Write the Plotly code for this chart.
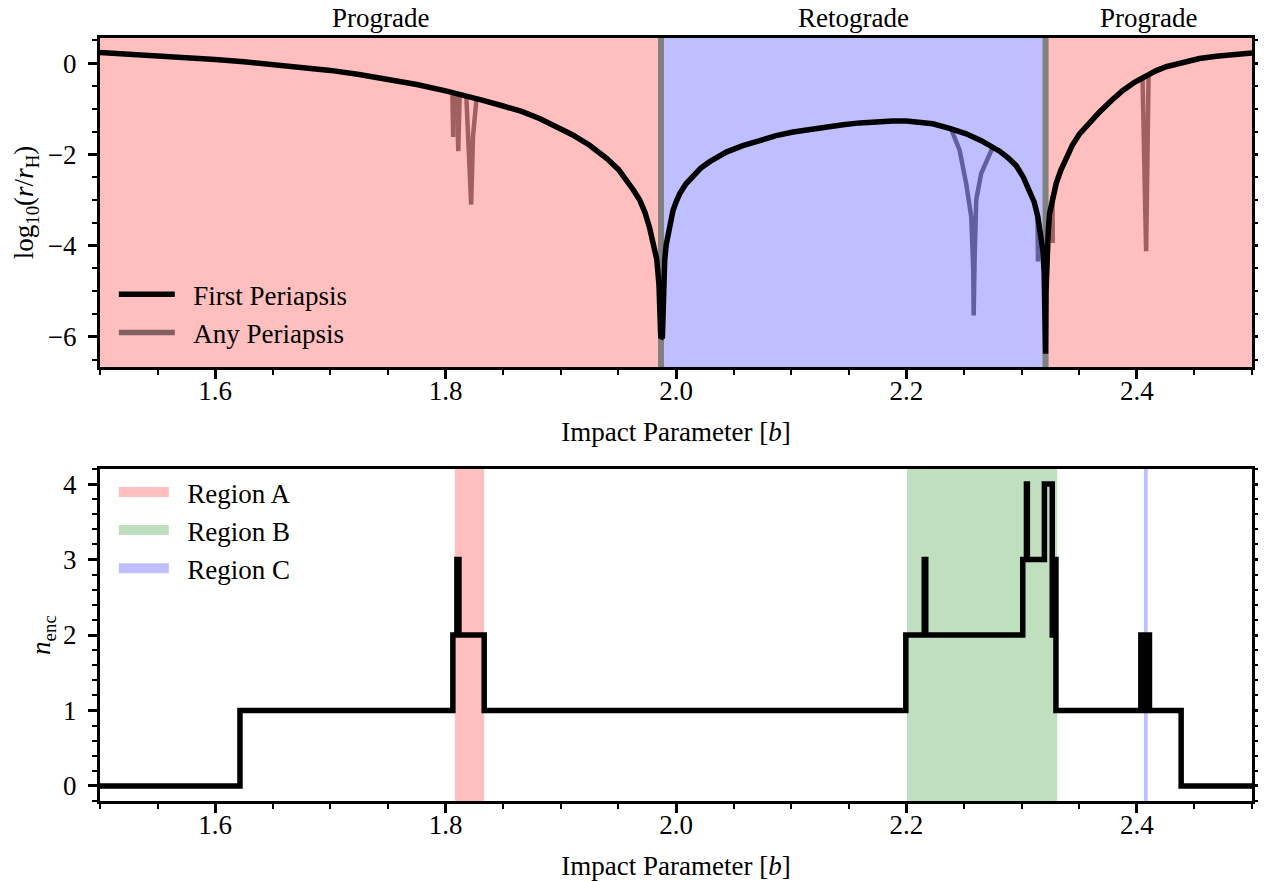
import plotly.graph_objects as go

# ---------------- data ----------------
# boundaries between prograde / retrograde regions (impact parameter b)
region_bounds = [1.5, 1.987, 2.3208, 2.5]
region_labels = ["Prograde", "Retograde", "Prograde"]

# first periapsis: log10(r / r_H) vs impact parameter
b_first = [1.500, 1.525, 1.550, 1.575, 1.600, 1.625, 1.650, 1.675, 1.700, 1.725,
           1.750, 1.775, 1.800, 1.812, 1.830, 1.850, 1.866, 1.882, 1.896, 1.910,
           1.925, 1.940, 1.950, 1.957, 1.963, 1.9685, 1.973, 1.977, 1.9805, 1.9833,
           1.9852, 1.9862, 1.9868,
           1.9882, 1.9890, 1.9902, 1.9915, 1.9931, 1.9950, 1.9974, 2.0003, 2.0033,
           2.0085, 2.0148, 2.0215, 2.0293, 2.0365, 2.0437, 2.0580, 2.0727, 2.0870,
           2.1016, 2.1160, 2.1305, 2.1450, 2.1594, 2.1740, 2.1883, 2.2000, 2.2115,
           2.2230, 2.2389, 2.2519, 2.2650, 2.2740, 2.2809, 2.2885, 2.2954, 2.3015,
           2.3069, 2.3110, 2.3141, 2.3165, 2.3184, 2.3196, 2.3203, 2.3208,
           2.3212, 2.3217, 2.3222, 2.3232, 2.3243, 2.3270, 2.3300, 2.3340, 2.3387,
           2.3440, 2.3503, 2.3590, 2.3677, 2.3780, 2.3879, 2.3980, 2.4081, 2.4165,
           2.4255, 2.4400, 2.4544, 2.4690, 2.4833, 2.5000]
r_first = [0.23, 0.20, 0.16, 0.12, 0.08, 0.03, -0.03, -0.09, -0.16, -0.25,
           -0.35, -0.47, -0.61, -0.68, -0.80, -0.94, -1.06, -1.22, -1.38, -1.57,
           -1.80, -2.09, -2.33, -2.55, -2.78, -3.00, -3.27, -3.60, -3.95, -4.30,
           -4.85, -5.40, -6.03,
           -6.00, -5.20, -4.32, -3.98, -3.73, -3.48, -3.23, -3.03, -2.86,
           -2.65, -2.46, -2.30, -2.16, -2.04, -1.95, -1.81, -1.69, -1.59,
           -1.51, -1.45, -1.40, -1.35, -1.31, -1.28, -1.27, -1.27, -1.29,
           -1.33, -1.44, -1.55, -1.70, -1.82, -1.93, -2.08, -2.25, -2.50,
           -2.79, -3.05, -3.37, -3.70, -4.10, -4.60, -5.20, -6.37,
           -5.00, -4.40, -4.05, -3.65, -3.30, -2.92, -2.64, -2.35, -2.06,
           -1.80, -1.55, -1.30, -1.07, -0.82, -0.60, -0.42, -0.27, -0.17,
           -0.08, 0.02, 0.10, 0.15, 0.19, 0.22]

# any periapsis: visible excursions below the first-periapsis curve
dipA1_b = [1.8059, 1.8066, 1.8072]
dipA1_r = [-0.66, -1.62, -0.67]
dipA2_b = [1.8096, 1.8110, 1.8122]
dipA2_r = [-0.68, -1.93, -0.69]
dipA3_b = [1.8180, 1.8205, 1.8222, 1.8238, 1.8268]
dipA3_r = [-0.73, -2.00, -3.10, -1.60, -0.79]
dipB_b = [2.2389, 2.2462, 2.2519, 2.2563, 2.2580, 2.2584, 2.2592, 2.2606, 2.2649, 2.2707, 2.2750]
dipB_r = [-1.45, -1.91, -2.64, -3.37, -4.50, -5.53, -4.30, -3.00, -2.42, -2.06, -1.84]
dipB2_b = [2.3138, 2.3142]
dipB2_r = [-3.30, -4.35]
dipC1_b = [2.3268, 2.3270]
dipC1_r = [-2.90, -3.94]
dipC2_b = [2.4050, 2.4081, 2.4102]
dipC2_r = [-0.33, -4.12, -0.30]

# number of encounters (step function)
n_b = [1.5, 1.6215, 1.8063, 1.8098, 1.8116, 1.8335, 2.1995, 2.2155, 2.2168,
       2.3010, 2.3042, 2.3050, 2.3198, 2.3266, 2.3276, 2.3298, 2.4035, 2.4055,
       2.4060, 2.4080, 2.4085, 2.4110, 2.4385, 2.5]
n_enc = [0, 1, 2, 3, 2, 1, 2, 3, 2,
         3, 4, 3, 4, 2, 3, 1, 2, 1,
         2, 1, 2, 1, 0, 0]

# highlighted regions in lower panel
region_names = ["Region A", "Region B", "Region C"]
region_lo = [1.8080, 2.2005, 2.4062]
region_hi = [1.8335, 2.3309, 2.4095]

# ---------------- style ----------------
FONT = "Liberation Serif"
FS = 27
PINK = "rgb(255,191,191)"
BLUE = "rgb(191,191,255)"
GREEN = "rgb(191,223,191)"
region_colors = [PINK, GREEN, BLUE]
span_colors = [PINK, BLUE, PINK]
ANY_PINK = "rgb(160,96,96)"
ANY_BLUE = "rgb(96,96,160)"
SP = "\u00a0\u00a0"

fig = go.Figure()

dips = [(dipA1_b, dipA1_r, ANY_PINK), (dipA2_b, dipA2_r, ANY_PINK), (dipA3_b, dipA3_r, ANY_PINK),
        (dipB_b, dipB_r, ANY_BLUE), (dipB2_b, dipB2_r, ANY_BLUE),
        (dipC1_b, dipC1_r, ANY_PINK), (dipC2_b, dipC2_r, ANY_PINK)]
for bx, ry, col in dips:
    fig.add_trace(go.Scatter(x=bx, y=ry, mode="lines", line=dict(color=col, width=4.5),
                             showlegend=False, hoverinfo="skip", xaxis="x", yaxis="y"))

fig.add_trace(go.Scatter(x=b_first, y=r_first, mode="lines", name=SP + "First Periapsis",
                         line=dict(color="black", width=5.5), legend="legend",
                         legendgroup="g1", xaxis="x", yaxis="y"))
fig.add_trace(go.Scatter(x=[None], y=[None], mode="lines", name=SP + "Any Periapsis",
                         line=dict(color="rgb(128,96,96)", width=5.5), legend="legend",
                         legendgroup="g2", xaxis="x", yaxis="y"))

for i, nm in enumerate(region_names):
    fig.add_trace(go.Scatter(x=[None], y=[None], mode="lines", name=SP + nm,
                             line=dict(color=region_colors[i], width=17), legend="legend2",
                             legendgroup="r%d" % i, xaxis="x2", yaxis="y2"))
fig.add_trace(go.Scatter(x=n_b, y=n_enc, mode="lines", line_shape="hv",
                         line=dict(color="black", width=5.5), showlegend=False,
                         xaxis="x2", yaxis="y2"))

shapes = []
for i in range(3):
    shapes.append(dict(type="rect", xref="x", yref="y domain", x0=region_bounds[i],
                       x1=region_bounds[i + 1], y0=0, y1=1, fillcolor=span_colors[i],
                       line=dict(width=0), layer="below"))
for bnd in region_bounds[1:3]:
    shapes.append(dict(type="line", xref="x", yref="y domain", x0=bnd, x1=bnd, y0=0, y1=1,
                       line=dict(color="rgb(128,128,128)", width=6), layer="below"))
for i in range(3):
    shapes.append(dict(type="rect", xref="x2", yref="y2 domain", x0=region_lo[i],
                       x1=region_hi[i], y0=0, y1=1, fillcolor=region_colors[i],
                       line=dict(width=0), layer="below"))

annotations = []
for i, lab in enumerate(region_labels):
    annotations.append(dict(text=lab, x=(region_bounds[i] + region_bounds[i + 1]) / 2,
                            xref="x", y=1, yref="y domain", yanchor="bottom", showarrow=False,
                            yshift=3, font=dict(family=FONT, size=FS, color="black")))

xcommon = dict(range=[1.5, 2.5], tick0=1.6, dtick=0.2, ticks="outside", ticklen=9, tickwidth=2.5,
               tickcolor="black", showline=True, linecolor="black", linewidth=3, mirror=True,
               showgrid=False, zeroline=False, tickformat=".1f", ticklabelstandoff=-11,
               automargin=False,
               minor=dict(dtick=0.05, tick0=1.5, ticks="outside", ticklen=5, tickwidth=2,
                          tickcolor="black", showgrid=False),
               tickfont=dict(family=FONT, size=FS, color="black"),
               title=dict(text="Impact Parameter [<i>b</i>]", font=dict(family=FONT, size=FS, color="black"),
                          standoff=17))
ycommon = dict(ticks="outside", ticklen=9, tickwidth=2.5, tickcolor="black", showline=True,
               linecolor="black", linewidth=3, mirror="allticks", showgrid=False, zeroline=False,
               ticklabelstandoff=6, automargin=False,
               tickfont=dict(family=FONT, size=FS, color="black"))

fig.update_layout(
    width=1258, height=873,
    margin=dict(l=92, r=14, t=30, b=80, autoexpand=False),
    paper_bgcolor="white", plot_bgcolor="white",
    font=dict(family=FONT, size=FS, color="black"),
    xaxis=dict(xcommon, domain=[0, 1], anchor="y"),
    yaxis=dict(ycommon, domain=[0.5688, 1], anchor="x", range=[-6.66, 0.55],
               tickvals=[0, -2, -4, -6], ticktext=["0", "\u22122", "\u22124", "\u22126"],
               minor=dict(dtick=0.5, tick0=0, ticks="outside", ticklen=5, tickwidth=2,
                          tickcolor="black", showgrid=False),
               title=dict(text="log<sub>10</sub>(<i>r</i>/<i>r</i><sub>H</sub>)",
                          font=dict(family=FONT, size=FS, color="black"), standoff=7)),
    xaxis2=dict(xcommon, domain=[0, 1], anchor="y2"),
    yaxis2=dict(ycommon, domain=[0, 0.4351], anchor="x2", range=[-0.2, 4.2],
                tickvals=[0, 1, 2, 3, 4],
                minor=dict(dtick=0.2, tick0=0, ticks="outside", ticklen=5, tickwidth=2,
                           tickcolor="black", showgrid=False),
                title=dict(text="<i>n</i><sub>enc</sub>",
                           font=dict(family=FONT, size=FS, color="black"), standoff=5)),
    legend=dict(x=0.012, y=0.6956, xanchor="left", yanchor="top", bgcolor="rgba(0,0,0,0)",
                itemwidth=56, tracegroupgap=0, traceorder="grouped",
                font=dict(family=FONT, size=FS, color="black")),
    legend2=dict(x=0.012, y=0.4365, xanchor="left", yanchor="top", bgcolor="rgba(0,0,0,0)",
                 itemwidth=50, tracegroupgap=0, traceorder="grouped",
                 font=dict(family=FONT, size=FS, color="black")),
    shapes=shapes, annotations=annotations,
)

fig.write_html("out.html")
